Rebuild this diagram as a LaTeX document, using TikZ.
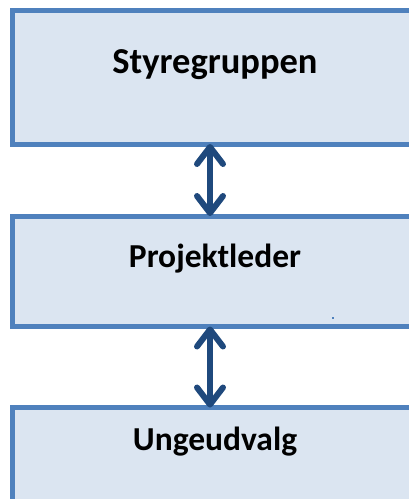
\documentclass[tikz,border=0pt]{standalone}
\usepackage{fontspec}
\setmainfont{Carlito}
\usepackage{tikz}
\usetikzlibrary{arrows.meta,positioning,shapes}
\definecolor{boxfill}{RGB}{219,229,241}
\definecolor{boxline}{RGB}{79,129,189}
\definecolor{arrowblue}{RGB}{31,73,125}

\begin{document}
\begin{tikzpicture}[x=1pt,y=-1pt,
		box/.style={rectangle,draw=boxline,fill=boxfill,line width=5pt,outer sep=0pt,minimum width=405pt,inner xsep=0pt,inner ysep=0pt,font=\fontsize{33.5}{40}\selectfont\bfseries},
		link/.style={draw=arrowblue,line width=6pt,{Straight Barb[length=17pt,width=26pt,round]}-{Straight Barb[length=17pt,width=26pt,round]}}]
		\useasboundingbox (0,0) rectangle (409,499);
		\clip (0,0) rectangle (409,499);
		\node[box,anchor=north,text height=62.8pt,text depth=70.7pt,font=\fontsize{36.5}{44}\selectfont\bfseries] (styre) at (215,10.5) {Styregruppen};
		\node[box,below=72pt of styre,text height=51pt,text depth=59.5pt] (leder) {Projektleder};
		\node[box,below=81pt of leder,text height=42.5pt,text depth=100pt] (udvalg) {Ungeudvalg};
		
		\draw[link] ([xshift=-5pt]styre.south) -- ([xshift=-5pt]leder.north);
		\draw[link] ([xshift=-5pt]leder.south) -- ([xshift=-5pt]udvalg.north);
		
		\fill[boxline] (332,317) rectangle ++(2,2);
\end{tikzpicture}
\end{document}
